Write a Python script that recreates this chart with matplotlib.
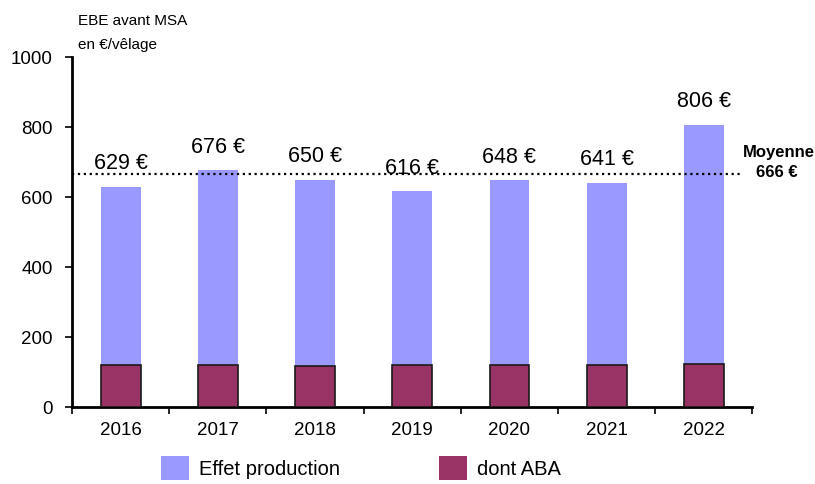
import matplotlib.pyplot as plt
import numpy as np
from matplotlib.patches import Patch

plt.rcParams['font.family'] = ['Liberation Sans', 'DejaVu Sans']

years = ['2016', '2017', '2018', '2019', '2020', '2021', '2022']
ebe = [629, 676, 650, 616, 648, 641, 806]
aba = [120, 120, 117, 120, 120, 120, 123]
moyenne = 666

light = '#9999FF'
dark = '#993366'

fig = plt.figure(figsize=(8.15, 4.84), dpi=100)
ax = fig.add_axes([0.0883, 0.159, 0.835, 0.723])

x = np.arange(len(years))
ax.bar(x, ebe, width=0.41, color=light, zorder=2)
ax.bar(x, aba, width=0.41, color=dark, edgecolor='#1a1a1a', linewidth=1.2, zorder=3)

for xi, v in zip(x, ebe):
    ax.text(xi, v + 66, f'{v} €', ha='center', va='center', fontsize=15.5, zorder=1)

# ligne de moyenne
ax.plot([-0.5, 6.37], [moyenne, moyenne], color='black', linestyle=':', linewidth=1.6, zorder=4)
ax.text(6.40, moyenne + 62, 'Moyenne', ha='left', va='center', fontsize=12,
        fontweight='bold', clip_on=False)
ax.text(6.75, moyenne + 3, f'{moyenne} €', ha='center', va='center', fontsize=12,
        fontweight='bold', clip_on=False)

ax.set_xlim(-0.5, 6.5)
ax.set_ylim(0, 1000)
ax.set_yticks(range(0, 1001, 200))
ax.set_xticks(x)
ax.set_xticklabels(years)
ax.set_xticks(np.arange(-0.5, 7, 1), minor=True)
ax.tick_params(axis='x', which='major', length=0, labelsize=13.5, pad=11)
ax.tick_params(axis='x', which='minor', length=5, width=1.2, direction='out')
ax.tick_params(axis='y', length=5, width=1.2, direction='out', labelsize=13.5, pad=9)

for s in ['top', 'right']:
    ax.spines[s].set_visible(False)
for s in ['left', 'bottom']:
    ax.spines[s].set_linewidth(2)

fig.text(0.096, 0.957, 'EBE avant MSA', fontsize=11, va='center', ha='left')
fig.text(0.096, 0.908, 'en €/vêlage', fontsize=11, va='center', ha='left')

handles = [Patch(facecolor=light, edgecolor='none', label='Effet production'),
           Patch(facecolor=dark, edgecolor='none', label='dont ABA')]
fig.legend(handles=handles, loc='center left', bbox_to_anchor=(161 / 815, 0.033), ncol=2,
           frameon=False, fontsize=14.5, handlelength=1.4, handleheight=1.4,
           handletextpad=0.5, columnspacing=4.9, borderpad=0, borderaxespad=0)

fig.savefig('out.png', dpi=100)
